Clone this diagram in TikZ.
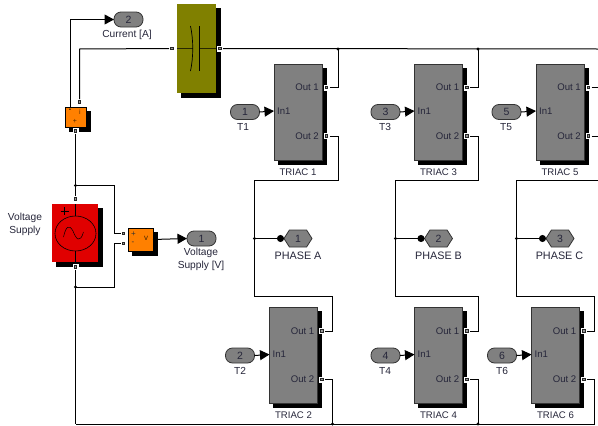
\documentclass[tikz,border=0pt]{standalone}
\usepackage{fontspec}
\setmainfont{Liberation Sans}
\usetikzlibrary{arrows.meta,shadows,shapes.symbols,calc}
\definecolor{txt}{HTML}{26263A}
\definecolor{blockgray}{HTML}{808080}
\definecolor{olive}{HTML}{808000}
\definecolor{orng}{HTML}{FF8000}
\definecolor{rd}{HTML}{E00000}
\tikzset{
  wire/.style={draw=black,line width=1pt},
  sig/.style={wire,-{Triangle[length=9.5pt,width=10pt]}},
  phasewire/.style={wire,-{Circle[length=7pt,width=7pt]}},
  shadowed/.style={copy shadow={shadow xshift=4pt,shadow yshift=-4pt,fill=black,draw=black}},
  triacbox/.style={shadowed,fill=blockgray,draw=black!80,line width=.8pt,minimum width=48pt,minimum height=96pt,inner sep=0pt,outer sep=0pt,anchor=north west},
  pill/.style={fill=blockgray,draw=black!80,line width=.8pt,rounded corners=7pt,minimum width=29pt,minimum height=15pt,inner sep=0pt,outer sep=0pt,font=\fontsize{10.5}{11}\selectfont,text=txt},
  hexa/.style={signal,signal to=east and west,signal pointer angle=115,fill=blockgray,draw=black!80,line width=.8pt,minimum width=28pt,minimum height=17pt,inner sep=0pt,outer sep=0pt,font=\fontsize{10.5}{11}\selectfont,text=txt},
  lbl/.style={inner sep=0pt,font=\fontsize{9.6}{13}\selectfont,text=txt,align=center},
  biglbl/.style={inner sep=0pt,font=\fontsize{10.2}{13}\selectfont,text=txt,align=center},
  phlbl/.style={inner sep=0pt,font=\fontsize{10.8}{13}\selectfont,text=txt},
  portbg/.style={fill=white,draw=none,minimum size=6pt,inner sep=0pt,outer sep=0pt},
  dot/.style={circle,fill=black,inner sep=0pt,minimum size=3.2pt},
}
% ports: white patch with small dark square on top
\newcommand{\portat}[2]{%
  \node[portbg] (#1) at (#2) {};
  \fill[black!85] ($(#1)+(-1.8pt,-1.8pt)$) rectangle ($(#1)+(1.8pt,1.8pt)$);
  \fill[black!40] ($(#1)+(-.6pt,-.6pt)$) rectangle ($(#1)+(.6pt,.6pt)$);
}
% name, left, top, label
\newcommand{\triacblock}[4]{%
  \node[triacbox] (#1) at (#2,#3) {};
  \portat{#1a}{#2+52.5,#3+23.5}
  \portat{#1b}{#2+52.5,#3+72}
  \node[lbl,anchor=east] (#1ta) at (#2+45,#3+23.5) {Out 1};
  \node[lbl,anchor=east] (#1tb) at (#2+45,#3+72) {Out 2};
  \node[lbl,anchor=west] (#1tc) at (#2+3,#3+47) {In1};
  \coordinate (#1in) at (#2,#3+47);
  \node[lbl] (#1name) at (#2+24,#3+108) {#4};
}
\begin{document}
\begin{tikzpicture}[x=1pt,y=-1pt]
\useasboundingbox (0,0) rectangle (598,426);
\fill[white] (0,0) rectangle (598,426);

% capacitor
\node[shadowed,fill=olive,draw=none,minimum width=39pt,minimum height=89pt,inner sep=0pt,outer sep=0pt,anchor=north west] (cap) at (177,4) {};
\draw[line width=.8pt,black!70!olive] (177,48.5) -- (192.5,48.5);
\draw[line width=.8pt,black!70!olive] (199.5,48.5) -- (216,48.5);
\draw[line width=.7pt,black] (199.5,26) -- (199.5,71);
\draw[line width=.7pt,black] (190.5,26) .. controls (193.5,40) and (193.5,57) .. (190.5,71);
\portat{capl}{172,48.5}
\portat{capr}{220,48.5}

% current measurement
\node[shadowed,fill=orng,draw=black,line width=1pt,minimum width=21pt,minimum height=20pt,inner sep=0pt,outer sep=0pt,anchor=north west] (cm) at (65,107) {};
\node[inner sep=0pt,font=\fontsize{7}{7}\selectfont\bfseries,text=black] (cmm) at (70,110.5) {-};
\node[inner sep=0pt,font=\fontsize{7}{7}\selectfont,text=black!60!orng] (cmi) at (80,111.5) {i};
\node[inner sep=0pt,font=\fontsize{7}{7}\selectfont,text=black!70!orng] (cmp) at (75,121) {+};
\portat{cmt}{79.5,102}
\portat{cmb}{75.5,131}

% voltage source
\node[shadowed,fill=rd,draw=none,minimum width=46pt,minimum height=58pt,inner sep=0pt,outer sep=0pt,anchor=north west] (vs) at (52,204) {};
\draw[line width=.6pt,black] (75.5,233.5) ellipse [x radius=20.5,y radius=17.5];
\draw[line width=.6pt,black] (75.5,204) -- (75.5,216);
\draw[line width=.6pt,black] (75.5,251) -- (75.5,262);
\draw[line width=.6pt,black] (60.5,211) -- (68.5,211) (64.5,207) -- (64.5,215);
\draw[line width=.5pt,black] (63.5,237) .. controls (66,226) and (69,224) .. (73,231) .. controls (76,239) and (80,244) .. (83.5,232);
\portat{vst}{75.5,199}
\portat{vsb}{75.5,267}
\node[biglbl,anchor=center] (vslbl) at (25,224.5) {Voltage\\Supply};

% voltage measurement
\node[shadowed,fill=orng,draw=black,line width=.8pt,minimum width=25pt,minimum height=23pt,inner sep=0pt,outer sep=0pt,anchor=north west] (vm) at (128,228) {};
\node[inner sep=0pt,font=\fontsize{8}{8}\selectfont,text=black!80] (vmp) at (133.5,234) {+};
\node[inner sep=0pt,font=\fontsize{8}{8}\selectfont,text=black!80] (vmm) at (133,243.5) {-};
\node[inner sep=0pt,font=\fontsize{8}{8}\selectfont,text=black!70!orng] (vmv) at (146,238) {v};
\portat{vmp1}{123.5,233.5}
\portat{vmp2}{123.5,243.5}

% triacs
\triacblock{ta}{274}{64}{TRIAC 1}
\triacblock{tc}{414.5}{64}{TRIAC 3}
\triacblock{te}{536}{64}{TRIAC 5}
\triacblock{tb}{269.5}{307.5}{TRIAC 2}
\triacblock{td}{414.5}{307.5}{TRIAC 4}
\triacblock{tf}{531.5}{307.5}{TRIAC 6}

% terminals
\node[pill] (cur) at (128.5,19.5) {2};
\node[biglbl] (curlbl) at (127,35) {Current [A]};
\node[pill] (volt) at (201.5,238.5) {1};
\node[biglbl,anchor=north] (voltlbl) at (201,248) {Voltage\\Supply [V]};

\node[pill] (p1) at (245,112) {1};
\node[biglbl] (p1l) at (243,127) {T1};
\node[pill] (p3) at (385.5,112) {3};
\node[biglbl] (p3l) at (385,127) {T3};
\node[pill] (p5) at (506.5,112) {5};
\node[biglbl] (p5l) at (506,127) {T5};
\node[pill] (p2) at (240,355.5) {2};
\node[biglbl] (p2l) at (240,371) {T2};
\node[pill] (p4) at (385.5,355.5) {4};
\node[biglbl] (p4l) at (385,371) {T4};
\node[pill] (p6) at (502,355.5) {6};
\node[biglbl] (p6l) at (502,371) {T6};

\node[hexa] (ha) at (298,238.5) {1};
\node[phlbl] (hal) at (298,256) {PHASE A};
\node[hexa] (hb) at (438.5,238.5) {2};
\node[phlbl] (hbl) at (438.5,256) {PHASE B};
\node[hexa] (hc) at (560,238.5) {3};
\node[phlbl] (hcl) at (559.5,256) {PHASE C};

% free ends at the right edge
\coordinate (eTop) at (598,49);
\coordinate (eA) at (598,87.5);
\coordinate (eB) at (598,136);
\coordinate (eC) at (598,180.5);

% routing coordinates
\coordinate (jt1) at (338,49);
\coordinate (jt2) at (478,49);
\coordinate (jb1) at (332.5,424);
\coordinate (jb2) at (478,424);
\coordinate (jb3) at (594.5,424);
\coordinate (jb0) at (75.5,424);
\coordinate (jv1) at (75.5,185.5);
\coordinate (jv2) at (75.5,287);
\coordinate (ra1) at (254.5,180.5);
\coordinate (ra2) at (254.5,296.5);
\coordinate (rb1) at (395.5,180.5);
\coordinate (rb2) at (395.5,296.5);
\coordinate (rc1) at (516.5,180.5);
\coordinate (rc2) at (516.5,296.5);
\coordinate (ja) at (254.5,238.5);
\coordinate (jb) at (395.5,238.5);
\coordinate (jc) at (516.5,238.5);

% connectors
\draw[wire] (capr) -- (eTop);
\draw[wire] (cmt) -- (79.5,49) -- (capl);
\draw[sig] (70.5,107) |- (cur.west);
\draw[wire] (cmb) -- (vst);
\draw[wire] (jv1) -- (114,185.5) -- (114,233.5) -- (vmp1);
\draw[wire] (vsb) -- (jb0);
\draw[wire] (jv2) -- (114,287) -- (114,243.5) -- (vmp2);
\draw[sig] (vm.east) -- (volt.west);

\draw[wire] (taa) -| (jt1);
\draw[wire] (tab) -| (338,180.5) -- (ra1) -- (ra2) -- (332.5,296.5) -- (332.5,331) -- (tba);
\draw[wire] (tbb) -| (jb1);
\draw[wire] (tca) -| (jt2);
\draw[wire] (tcb) -| (478,180.5) -- (rb1) -- (rb2) -- (478,296.5) -- (478,331) -- (tda);
\draw[wire] (tdb) -| (jb2);
\draw[wire] (tea) -- (eA);
\draw[wire] (teb) -- (eB);
\draw[wire] (eC) -- (rc1) -- (rc2) -- (594.5,296.5) -- (594.5,331) -- (tfa);
\draw[wire] (tfb) -| (jb3) -- (jb0);

\draw[phasewire] (ja) -- (ha.west);
\draw[phasewire] (jb) -- (hb.west);
\draw[phasewire] (jc) -- (hc.west);

\draw[sig] (p1.east) -- (tain);
\draw[sig] (p3.east) -- (tcin);
\draw[sig] (p5.east) -- (tein);
\draw[sig] (p2.east) -- (tbin);
\draw[sig] (p4.east) -- (tdin);
\draw[sig] (p6.east) -- (tfin);

% junction dots
\node[dot] (d1) at (jt1) {};
\node[dot] (d2) at (jt2) {};
\node[dot] (d3) at (jb1) {};
\node[dot] (d4) at (jb2) {};
\node[dot] (d5) at (jv1) {};
\node[dot] (d6) at (jv2) {};
\node[dot] (d7) at (ja) {};
\node[dot] (d8) at (jb) {};
\node[dot] (d9) at (jc) {};
\end{tikzpicture}
\end{document}
